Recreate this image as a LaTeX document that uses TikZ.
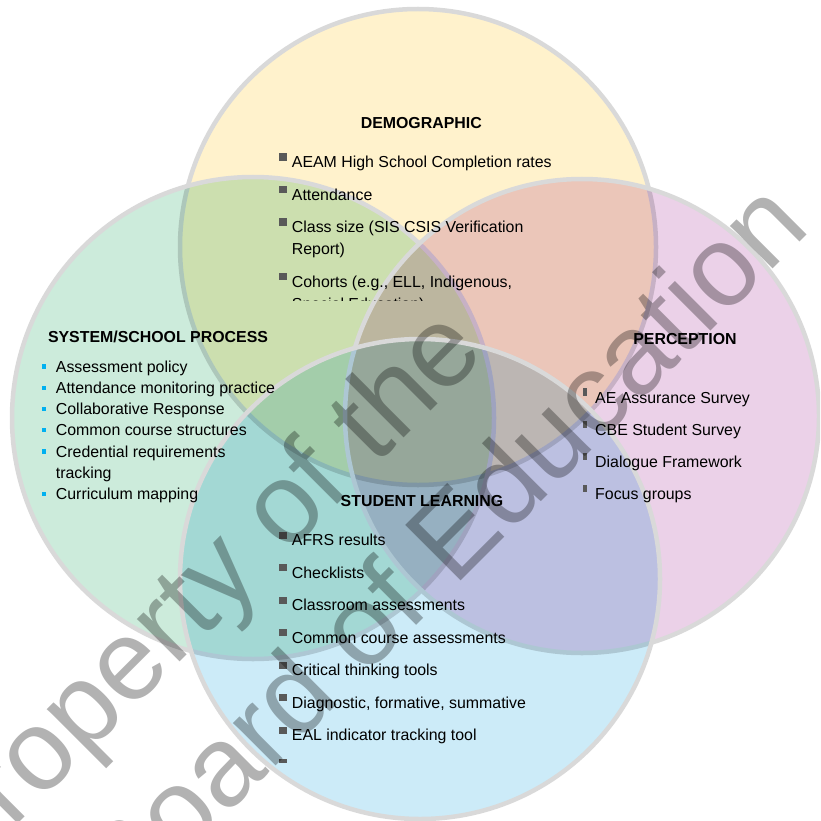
\documentclass[tikz,border=0pt]{standalone}
\usepackage{fontspec}
\setmainfont{Liberation Sans}
\definecolor{demo}{RGB}{255,242,204}
\definecolor{proc}{RGB}{204,235,219}
\definecolor{perc}{RGB}{235,209,232}
\definecolor{stud}{RGB}{204,235,248}
\definecolor{ringgray}{RGB}{217,217,217}
\definecolor{sqgray}{RGB}{89,89,89}
\definecolor{bluedot}{RGB}{0,176,240}

\begin{document}
\begin{tikzpicture}[x=1pt,y=-1pt,
  rim/.style={draw=ringgray,line width=4.5pt},
  head/.style={font=\fontsize{15.9}{22}\selectfont\bfseries,inner sep=0pt,anchor=base},
  txt/.style={font=\fontsize{15.9}{22}\selectfont,inner sep=0pt,anchor=base west},
  wmark/.style={font=\fontsize{114}{137}\selectfont,text=black,text opacity=0.3,
    inner sep=0pt,anchor=base east,rotate=45}]
  \useasboundingbox (0,0) rectangle (820,821);
  \clip (0,0) rectangle (820,821);
  % the four sets
  \foreach \x/\y/\r/\c in
  {
    418/247/238pt/demo,
    253/418/241pt/proc,
    582/416/237pt/perc,
    420/579/240pt/stud%
  }
  {
    \fill[\c,blend mode=multiply] (\x,\y) circle (\r);
    \draw[rim] (\x,\y) circle (\r);
  }
  \node[head] (demohead) at (421.3,128.3) {DEMOGRAPHIC};
  \node[head] (prochead) at (158,342.7) {SYSTEM/SCHOOL PROCESS};
  \node[head] (perchead) at (685,344) {PERCEPTION};
  \node[head] (studhead) at (422,506) {STUDENT LEARNING};
  % demographic
  \begin{scope}
    \clip (260,140) rectangle (600,300.5);
    \foreach \y/\lbl [count=\i] in
    {
      167.7/AEAM High School Completion rates,
      200.2/Attendance,
      232.7/Class size (SIS CSIS Verification,
      287.2/{Cohorts (e.g., ELL, Indigenous,}%
    }
    {
      \node[txt] (demo\i) at (291.7,\y) {\lbl};
      \fill[sqgray] (demo\i.base west) ++(-12.7,-14.4) rectangle ++(7.5,7.3);
    }
    \node[txt] (demo3b) at ([yshift=-22pt]demo3.base west) {Report)};
    \node[txt] (demo4b) at ([yshift=-22pt]demo4.base west) {Special Education)};
  \end{scope}
  % system/school process
  \foreach \y/\lbl [count=\i] in
  {
    372.3/Assessment policy,
    393.5/Attendance monitoring practice,
    414.7/Collaborative Response,
    435.9/Common course structures,
    457.1/Credential requirements,
    499.5/Curriculum mapping%
  }
  {
    \node[txt] (proc\i) at (55.7,\y) {\lbl};
    \fill[bluedot] (proc\i.base west) ++(-14,-8) rectangle ++(4.3,4.4);
  }
  \node[txt] (proc5b) at ([yshift=-21.2pt]proc5.base west) {tracking};
  % perception
  \foreach \y/\lbl [count=\i] in
  {
    403.3/AE Assurance Survey,
    435.5/CBE Student Survey,
    467.7/Dialogue Framework,
    499.9/Focus groups%
  }
  {
    \node[txt] (perc\i) at (595,\y) {\lbl};
    \fill[sqgray] (perc\i.base west) ++(-12.3,-15) rectangle ++(4.6,7.5);
  }
  % student learning
  \begin{scope}
    \clip (260,515) rectangle (600,762.7);
    \foreach \lbl [count=\i] in
    {
      AFRS results, Checklists, Classroom assessments,
      Common course assessments, Critical thinking tools,
      {Diagnostic, formative, summative}, EAL indicator tracking tool, {}%
    }
    {
      \node[txt] (stud\i) at (291.7,{545.7+32.5*(\i-1)}) {\lbl};
      \fill[sqgray] (stud\i.base west) ++(-12.4,-14.2) rectangle ++(7.4,7.4);
    }
  \end{scope}
  % watermark
  \node[wmark] (wm1) at (488,354) {Property of the};
  \node[wmark] (wm2) at (813,229) {Board of Education};
\end{tikzpicture}
\end{document}
